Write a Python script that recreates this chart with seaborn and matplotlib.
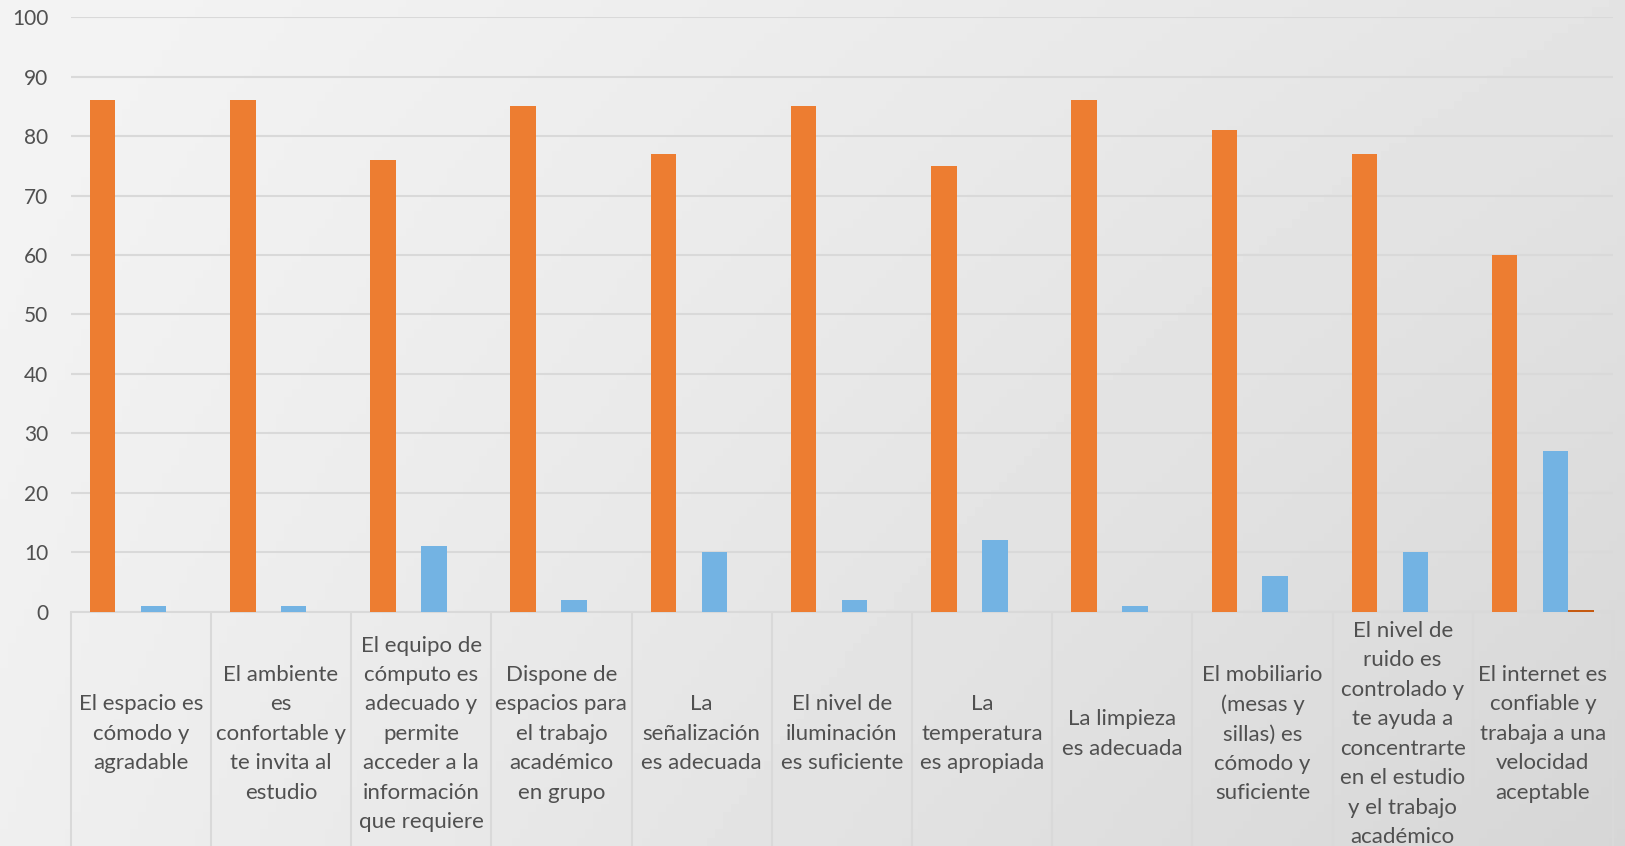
import numpy as np
import pandas as pd
import matplotlib
matplotlib.use("Agg")
import matplotlib.pyplot as plt
import seaborn as sns

categories = [
    "El espacio es\ncómodo y\nagradable",
    "El ambiente\nes\nconfortable y\nte invita al\nestudio",
    "El equipo de\ncómputo es\nadecuado y\npermite\nacceder a la\ninformación\nque requiere",
    "Dispone de\nespacios para\nel trabajo\nacadémico\nen grupo",
    "La\nseñalización\nes adecuada",
    "El nivel de\niluminación\nes suficiente",
    "La\ntemperatura\nes apropiada",
    "La limpieza\nes adecuada",
    "El mobiliario\n(mesas y\nsillas) es\ncómodo y\nsuficiente",
    "El nivel de\nruido es\ncontrolado y\nte ayuda a\nconcentrarte\nen el estudio\ny el trabajo\nacadémico",
    "El internet es\nconfiable y\ntrabaja a una\nvelocidad\naceptable",
]
series_names = ["Serie 1", "Serie 2", "Serie 3", "Serie 4"]
serie1 = [86, 86, 76, 85, 77, 85, 75, 86, 81, 77, 60]
serie2 = [0, 0, 0, 0, 0, 0, 0, 0, 0, 0, 0]
serie3 = [1, 1, 11, 2, 10, 2, 12, 1, 6, 10, 27]
serie4 = [0, 0, 0, 0, 0, 0, 0, 0, 0, 0, 0.3]
yticks = [0, 10, 20, 30, 40, 50, 60, 70, 80, 90, 100]

colors = ["#ED7D31", "#A5A5A5", "#73B3E3", "#C55A11"]
text_color = "#505050"
grid_color = "#D9D9D9"

rows = []
for name, vals in zip(series_names, [serie1, serie2, serie3, serie4]):
    for c, v in zip(categories, vals):
        rows.append({"cat": c, "val": v, "serie": name})
df = pd.DataFrame(rows)

sns.set_theme(style="white")
plt.rcParams["font.family"] = ["Lato", "DejaVu Sans"]

W, H = 1625, 846
fig = plt.figure(figsize=(W / 100, H / 100), dpi=100)

# gradient background
bg = fig.add_axes([0, 0, 1, 1], zorder=-10)
xx, yy = np.meshgrid(np.linspace(0, 1, 200), np.linspace(0, 1, 100))
tl, tr, bl, br = 244, 228, 239, 214
val = (tl * (1 - xx) * (1 - yy) + tr * xx * (1 - yy) + bl * (1 - xx) * yy + br * xx * yy) / 255.0
bg.imshow(val, cmap="gray", vmin=0, vmax=1, aspect="auto", extent=[0, 1, 0, 1], origin="upper")
bg.set_axis_off()

left, right = 70.7 / W, 1613 / W
bottom, top = 1 - 611.5 / H, 1 - 17.3 / H
ax = fig.add_axes([left, bottom, right - left, top - bottom])
ax.patch.set_alpha(0)

sns.barplot(data=df, x="cat", y="val", hue="serie", order=categories,
            hue_order=series_names, palette=colors, width=0.727,
            saturation=1, linewidth=0, legend=False, ax=ax, zorder=3)

ax.set_xlim(-0.5, len(categories) - 0.5)
ax.set_ylim(0, 100)
ax.set_yticks(yticks)
ax.set_yticklabels([str(t) for t in yticks], fontsize=15, color=text_color)
ax.tick_params(axis="y", length=0, pad=16)
ax.set_xticks([])
ax.set_xlabel("")
ax.set_ylabel("")
for s in ["top", "right", "left"]:
    ax.spines[s].set_visible(False)
ax.spines["bottom"].set_color(grid_color)
ax.spines["bottom"].set_linewidth(1.5)
ax.spines["bottom"].set_zorder(2)
ax.yaxis.grid(True, color=grid_color, linewidth=1.5, zorder=0)
ax.set_axisbelow(True)

trans = ax.get_xaxis_transform()
ax.vlines(np.arange(-0.5, len(categories)), 0, -1, transform=trans,
          color=grid_color, linewidth=1.5, clip_on=False)
for i, c in enumerate(categories):
    ax.text(i, -0.206, c, transform=trans, ha="center", va="center",
            multialignment="center", fontsize=16, color=text_color,
            linespacing=1.59)

fig.savefig("out.png", dpi=100)
